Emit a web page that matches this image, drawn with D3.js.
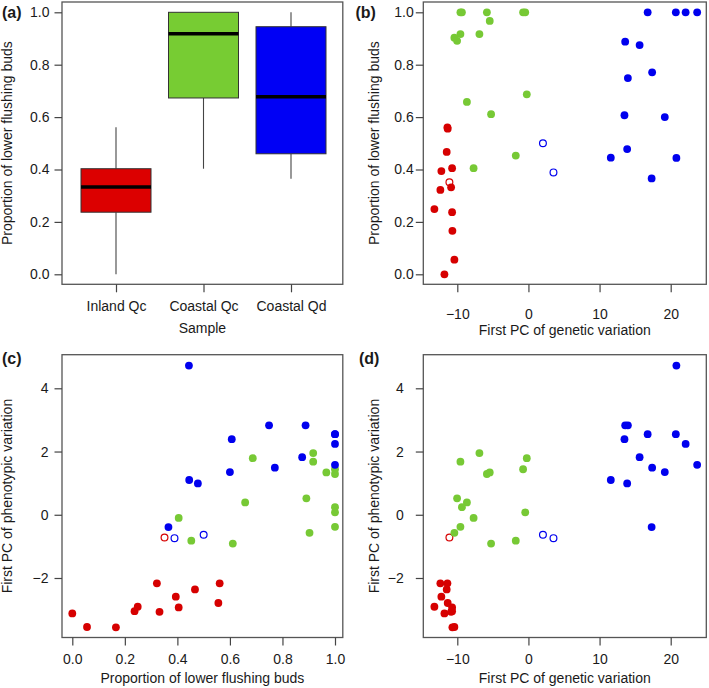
<!DOCTYPE html>
<html><head><meta charset="utf-8">
<script src="https://cdn.jsdelivr.net/npm/d3@7"></script>
<style>
body{margin:0;background:#fff}
svg{display:block}
text{font-family:"Liberation Sans",Arial,Helvetica,sans-serif;fill:#1a1a1a}
</style>
</head><body>
<svg id="chart" width="709" height="688"></svg>
<script>
// ---------- data ----------
const samples = ["Inland Qc", "Coastal Qc", "Coastal Qd"];
const sampleColors = ["#d60000", "#77c935", "#0000ee"];
const boxColors = ["#dc0000", "#77cc33", "#0000f5"];

// box plot statistics (proportion of lower flushing buds)
const boxLower  = [0.000, 0.403, 0.365];
const boxQ1     = [0.237, 0.673, 0.460];
const boxMedian = [0.333, 0.918, 0.678];
const boxQ3     = [0.403, 1.000, 0.945];
const boxUpper  = [0.561, 1.000, 1.000];

// Inland Qc trees
const inlandGen   = [-11.81, -10.41, -10.69, -10.73, -13.22, -12.38, -10.87, -12.24, -10.73, -11.49, -11.39, -11.35, -11.11];
const inlandProp  = [0.000, 0.056, 0.166, 0.237, 0.249, 0.322, 0.332, 0.394, 0.405, 0.467, 0.561, 0.556, 0.351];
const inlandPheno = [-3.12, -3.55, -3.56, -3.05, -2.91, -2.17, -3.07, -2.59, -2.93, -2.36, -2.17, -2.79, -0.72];
const inlandOpen  = [0,0,0,0,0,0,0,0,0,0,0,0,1];

// Coastal Qc trees
const coastalQcGen   = [-6.89, -9.56, -0.23, -0.75, -5.84, -5.44, -10.03, -8.65, -9.35, -7.71, -9.56, -10.41, -0.45, -5.25, -1.78];
const coastalQcProp  = [0.917, 0.917, 0.687, 1.000, 1.000, 0.967, 0.891, 0.658, 1.000, 0.405, 1.000, 0.903, 1.000, 0.611, 0.453];
const coastalQcPheno = [1.95, 1.68, 1.79, 1.44, 1.29, 1.34, 0.52, 0.39, 0.24, -0.10, -0.38, -0.57, 0.076, -0.91, -0.82];
const coastalQcOpen  = [0,0,0,0,0,0,0,0,0,0,0,0,0,0,0];

// Coastal Qd trees
const coastalQdGen   = [20.80, 13.60, 13.98, 16.76, 20.72, 13.50, 22.10, 15.63, 17.39, 23.72, 19.17, 11.58, 13.88, 17.32, 2.04, 3.52];
const coastalQdProp  = [0.444, 0.888, 0.749, 1.000, 1.000, 0.607, 1.000, 0.875, 0.771, 1.000, 0.600, 0.445, 0.478, 0.366, 0.500, 0.389];
const coastalQdPheno = [4.72, 2.83, 2.83, 2.55, 2.55, 2.39, 2.24, 1.82, 1.49, 1.58, 1.35, 1.10, 0.99, -0.39, -0.63, -0.74];
const coastalQdOpen  = [0,0,0,0,0,0,0,0,0,0,0,0,0,0,1,1];

const propTicks  = [0, 0.2, 0.4, 0.6, 0.8, 1.0];
const genTicks   = [-10, 0, 10, 20];
const phenoTicks = [-2, 0, 2, 4];

// ---------- assemble ----------
const groupsData = [
  [inlandGen, inlandProp, inlandPheno, inlandOpen],
  [coastalQcGen, coastalQcProp, coastalQcPheno, coastalQcOpen],
  [coastalQdGen, coastalQdProp, coastalQdPheno, coastalQdOpen]
];
const trees = [];
groupsData.forEach((g, gi) => {
  g[0].forEach((v, i) => trees.push({group: gi, gen: v, prop: g[1][i], pheno: g[2][i], open: !!g[3][i]}));
});

const svg = d3.select("#chart");
const FS = 14;

// ---------- scales ----------
const topFrame = {y0: 2, y1: 284.3};
const botFrame = {y0: 354.7, y1: 637.5};
const leftFrame = {x0: 62, x1: 342.8};
const rightFrame = {x0: 423.3, x1: 706.3};

const yProp  = d3.scaleLinear().domain([0, 1]).range([274.3, 12.3]);
const xCat   = d3.scaleLinear().domain([1, 3]).range([116, 291]);
const xGenT  = d3.scaleLinear().domain([-10, 20]).range([457.3, 670.7]);
const xProp  = d3.scaleLinear().domain([0, 1]).range([72.3, 335]);
const yPheno = d3.scaleLinear().domain([-2, 4]).range([578, 388.3]);

function frame(fx, fy) {
  svg.append("rect").attr("x", fx.x0).attr("y", fy.y0)
    .attr("width", fx.x1 - fx.x0).attr("height", fy.y1 - fy.y0)
    .attr("fill", "none").attr("stroke", "#555").attr("stroke-width", 1.3);
}

function yAxis(scale, ticks, fmt, fx, pad) {
  const g = svg.append("g").attr("transform", `translate(${fx.x0},0)`)
    .call(d3.axisLeft(scale).tickValues(ticks).tickFormat(fmt).tickSize(7.5).tickPadding(pad));
  g.select(".domain").remove();
  g.selectAll(".tick line").attr("stroke", "#444").attr("stroke-width", 1.2);
  g.selectAll("text").attr("font-size", FS).attr("font-family", null).attr("fill", "#1a1a1a");
}
function xAxis(scale, ticks, fmt, fy, baseOff) {
  const g = svg.append("g").attr("transform", `translate(0,${fy.y1})`)
    .call(d3.axisBottom(scale).tickValues(ticks).tickFormat(fmt).tickSize(8));
  g.select(".domain").remove();
  g.selectAll(".tick line").attr("stroke", "#444").attr("stroke-width", 1.2);
  g.selectAll("text").attr("font-size", FS).attr("font-family", null).attr("fill", "#1a1a1a")
    .attr("y", baseOff).attr("dy", 0);
}
function yTitle(txt, cx, fy) {
  const cy = (fy.y0 + fy.y1) / 2;
  svg.append("text").attr("transform", `translate(${cx},${cy}) rotate(-90)`)
    .attr("text-anchor", "middle").attr("font-size", FS).text(txt);
}
function xTitle(txt, fx, y) {
  svg.append("text").attr("x", (fx.x0 + fx.x1) / 2).attr("y", y)
    .attr("text-anchor", "middle").attr("font-size", FS).text(txt);
}
function panelLabel(txt, x, y) {
  svg.append("text").attr("x", x).attr("y", y).attr("font-size", 16)
    .attr("font-weight", "bold").text(txt);
}
function points(xs, ys, xKey, yKey) {
  const g = svg.append("g");
  g.selectAll("circle").data(trees).join("circle")
    .attr("cx", d => xs(d[xKey])).attr("cy", d => ys(d[yKey]))
    .attr("r", d => d.open ? 3.4 : 3.9)
    .attr("fill", d => d.open ? "none" : sampleColors[d.group])
    .attr("stroke", d => sampleColors[d.group])
    .attr("stroke-width", d => d.open ? 1.2 : 0);
}

const fmt1 = d3.format(".1f");
const fmt0 = d3.format("d");

// ---------- (a) box plot ----------
frame(leftFrame, topFrame);
const bw = xCat(1.4) - xCat(1);
samples.forEach((s, i) => {
  const cx = xCat(i + 1);
  svg.append("line").attr("x1", cx).attr("x2", cx)
    .attr("y1", yProp(boxUpper[i])).attr("y2", yProp(boxQ3[i]))
    .attr("stroke", "#444").attr("stroke-width", 1.1);
  svg.append("line").attr("x1", cx).attr("x2", cx)
    .attr("y1", yProp(boxQ1[i])).attr("y2", yProp(boxLower[i]))
    .attr("stroke", "#444").attr("stroke-width", 1.1);
  svg.append("rect").attr("x", cx - bw).attr("width", 2 * bw)
    .attr("y", yProp(boxQ3[i])).attr("height", yProp(boxQ1[i]) - yProp(boxQ3[i]))
    .attr("fill", boxColors[i]).attr("stroke", "#333").attr("stroke-width", 1);
  svg.append("line").attr("x1", cx - bw).attr("x2", cx + bw)
    .attr("y1", yProp(boxMedian[i])).attr("y2", yProp(boxMedian[i]))
    .attr("stroke", "#000").attr("stroke-width", 3.5);
});
yAxis(yProp, propTicks, fmt1, leftFrame, 5);
xAxis(xCat, [1, 2, 3], (d) => samples[d - 1], topFrame, 26.7);
yTitle("Proportion of lower flushing buds", 11.5, topFrame);
xTitle("Sample", leftFrame, 333);
panelLabel("(a)", 2, 18);

// ---------- (b) ----------
frame(rightFrame, topFrame);
points(xGenT, yProp, "gen", "prop");
yAxis(yProp, propTicks, fmt1, rightFrame, 2);
xAxis(xGenT, genTicks, fmt0, topFrame, 35);
yTitle("Proportion of lower flushing buds", 379, topFrame);
xTitle("First PC of genetic variation", rightFrame, 334.5);
panelLabel("(b)", 355.5, 18);

// ---------- (c) ----------
frame(leftFrame, botFrame);
points(xProp, yPheno, "prop", "pheno");
yAxis(yPheno, phenoTicks, fmt0, leftFrame, 6);
xAxis(xProp, propTicks, fmt1, botFrame, 26);
yTitle("First PC of phenotypic variation", 11.5, botFrame);
xTitle("Proportion of lower flushing buds", leftFrame, 682.5);
panelLabel("(c)", 2, 364);

// ---------- (d) ----------
frame(rightFrame, botFrame);
points(xGenT, yPheno, "gen", "pheno");
yAxis(yPheno, phenoTicks, fmt0, rightFrame, 12);
xAxis(xGenT, genTicks, fmt0, botFrame, 26.5);
yTitle("First PC of phenotypic variation", 379, botFrame);
xTitle("First PC of genetic variation", rightFrame, 683);
panelLabel("(d)", 359, 364);
</script>
</body></html>
